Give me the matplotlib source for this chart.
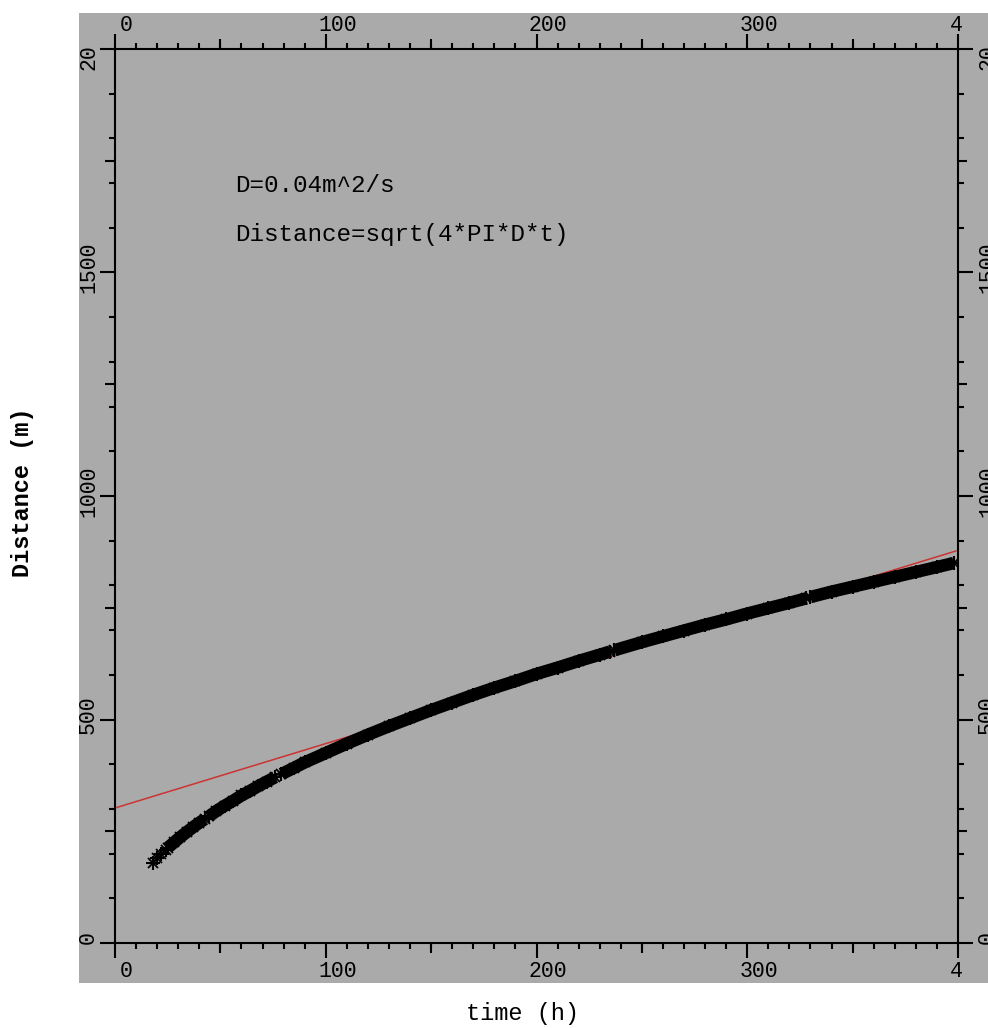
import numpy as np
import matplotlib
matplotlib.use("Agg")
import matplotlib.pyplot as plt
from matplotlib.patches import Rectangle
from matplotlib.transforms import Bbox, TransformedBbox, offset_copy

# time (h) vs distance (m), five runs with small gaps
EARLY_T = [18, 20, 22, 24]
EARLY_D = [180, 190, 200, 208]

SEG1_T = [25, 28, 31, 34, 37, 40, 42.5]
SEG1_D = [213, 225, 237, 248, 259, 269, 277]
SEG2_T = [44.5, 48, 52, 56, 60, 64, 68, 72, 76]
SEG2_D = [283, 295, 307, 318, 330, 340, 351, 361, 371]
SEG3_T = [79, 85, 90, 100, 110, 120, 130, 140, 150, 160, 170, 180, 190,
          200, 210, 220, 230, 235]
SEG3_D = [378, 392, 404, 425, 446, 466, 485, 503, 521, 538, 555, 571, 586,
          602, 616, 631, 645, 652]
SEG4_T = [237, 250, 260, 270, 280, 290, 300, 310, 320, 328]
SEG4_D = [655, 673, 686, 699, 712, 724, 737, 749, 761, 771]
SEG5_T = [330, 340, 350, 360, 370, 380, 390, 398]
SEG5_D = [774, 786, 797, 808, 819, 830, 841, 850]

# red straight line fit
FIT_T = [0, 399]
FIT_D = [302, 877]

XTICKS = [0, 100, 200, 300, 400]
XLABELS = ["0", "100", "200", "300", "400"]
YTICKS = [0, 500, 1000, 1500, 2000]
YLABELS = ["0", "500", "1000", "1500", "2000"]

NOTE_1 = "D=0.04m^2/s"
NOTE_2 = "Distance=sqrt(4*PI*D*t)"

BG = "#aaaaaa"
RED = "#cc3333"
FONT = "Liberation Mono"

W, H = 988, 1028
fig = plt.figure(figsize=(W / 100, H / 100), dpi=100)
fig.patch.set_facecolor("white")
fig.add_artist(Rectangle((79 / W, 45 / H), (W - 79) / W, 970 / H,
                         transform=fig.transFigure, facecolor=BG,
                         edgecolor="none", zorder=-10))

ax = fig.add_axes([115 / W, 85 / H, 843 / W, 894 / H])
ax.set_facecolor(BG)
ax.set_xlim(0, 400)
ax.set_ylim(0, 2000)

ax.plot(FIT_T, FIT_D, color=RED, lw=1.1, zorder=2)

segments = [(SEG1_T, SEG1_D), (SEG2_T, SEG2_D), (SEG3_T, SEG3_D),
            (SEG4_T, SEG4_D), (SEG5_T, SEG5_D)]
for t, d in segments:
    ax.plot(t, d, color="black", lw=9.0, solid_capstyle="butt", zorder=3)

all_t = EARLY_T + sum((s[0] for s in segments), [])
all_d = EARLY_D + sum((s[1] for s in segments), [])
ax.plot(all_t, all_d, ls="none", marker="+", ms=10, mew=1.5, color="black", zorder=4)
ax.plot(all_t, all_d, ls="none", marker="x", ms=7, mew=1.3, color="black", zorder=4)

# ticks
ax.set_xticks(XTICKS)
ax.set_xticks(np.arange(0, 401, 10), minor=True)
ax.set_yticks(YTICKS)
ax.set_yticks(np.arange(0, 2001, 100), minor=True)
ax.tick_params(which="both", direction="out", top=True, right=True,
               labelbottom=False, labelleft=False, width=1.5, color="black")
ax.tick_params(which="major", length=10.5)
ax.tick_params(which="minor", length=4.5)
for side in ax.spines.values():
    side.set_linewidth(1.5)
    side.set_color("black")

xt = ax.get_xaxis_transform()
yt = ax.get_yaxis_transform()
for v in [50, 150, 250, 350]:
    ax.plot([v, v], [1, 1 + 10 / 894], transform=xt, clip_on=False,
            color="black", lw=1.5, solid_capstyle="butt")
    ax.plot([v, v], [0, -10 / 894], transform=xt, clip_on=False,
            color="black", lw=1.5, solid_capstyle="butt")
for v in [250, 750, 1250, 1750]:
    ax.plot([0, -10 / 843], [v, v], transform=yt, clip_on=False,
            color="black", lw=1.5, solid_capstyle="butt")
    ax.plot([1, 1 + 9 / 843], [v, v], transform=yt, clip_on=False,
            color="black", lw=1.5, solid_capstyle="butt")

# tick labels (drawn by hand so they can be clipped like the original)
xclip = TransformedBbox(Bbox.from_extents(0, 0, 962 / W, 1), fig.transFigure)
yclip = TransformedBbox(Bbox.from_extents(0, 0, 1, 1 - 46 / H), fig.transFigure)
tick_font = dict(family=FONT, fontsize=15.5, color="black")

top_tr = offset_copy(xt, fig=fig, x=11.5, y=18, units="dots")
bot_tr = offset_copy(xt, fig=fig, x=11.5, y=-34, units="dots")
for v, lab in zip(XTICKS, XLABELS):
    for tr, yy in [(top_tr, 1), (bot_tr, 0)]:
        t = fig.text(v, yy, lab, transform=tr, ha="center", va="baseline",
                     clip_on=True, **tick_font)
        t.set_clip_box(xclip)

left_tr = offset_copy(yt, fig=fig, x=-16, y=5, units="dots")
right_tr = offset_copy(yt, fig=fig, x=19, y=5, units="dots")
for v, lab in zip(YTICKS, YLABELS):
    t = fig.text(0, v, lab, transform=left_tr, rotation=90, ha="right",
                 va="center", clip_on=True, **tick_font)
    t.set_clip_box(yclip)
    t = fig.text(1, v, lab, transform=right_tr, rotation=90, ha="left",
                 va="center", clip_on=True, **tick_font)
    t.set_clip_box(yclip)

# annotation
ax.text(56.9, 1680, NOTE_1, family=FONT, fontsize=17.5, color="black")
ax.text(56.9, 1570, NOTE_2, family=FONT, fontsize=17.5, color="black")

# axis titles
fig.text(23 / W, 1 - 492 / H, "Distance (m)", rotation=90, ha="center",
         va="center", family=FONT, fontsize=17, weight="bold", color="black")
fig.text(522 / W, 1 - 1020 / H, "time (h)", ha="center", va="baseline",
         family=FONT, fontsize=17, color="black")

fig.savefig("out.png", dpi=100, facecolor="white")
